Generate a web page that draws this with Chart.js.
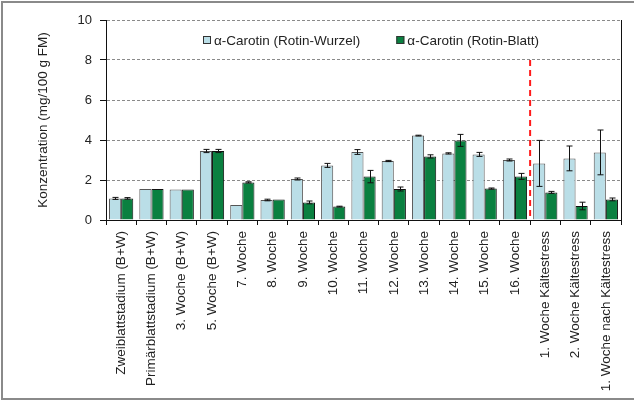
<!DOCTYPE html>
<html>
<head>
<meta charset="utf-8">
<script src="https://cdn.jsdelivr.net/npm/chart.js@4/dist/chart.umd.min.js"></script>
<style>
  html, body { margin: 0; padding: 0; background: #fff; }
  #wrap { position: relative; width: 634px; height: 404px; }
  #frame { position: absolute; left: 1px; top: 1px; width: 640px; height: 399px;
           border: 2px solid #8a8a8a; box-sizing: border-box; pointer-events: none; }
  canvas { position: absolute; left: 0; top: 0; }
</style>
</head>
<body>
<div id="wrap">
  <canvas id="c" width="634" height="404"></canvas>
  <div id="frame"></div>
</div>
<script>
// ── data ──────────────────────────────────────────────────────────────────────
var categories = [
  "Zweiblattstadium (B+W)", "Primärblattstadium (B+W)", "3. Woche (B+W)", "5. Woche (B+W)",
  "7. Woche", "8. Woche", "9. Woche", "10. Woche", "11. Woche", "12. Woche", "13. Woche",
  "14. Woche", "15. Woche", "16. Woche", "1. Woche Kältestress", "2. Woche Kältestress",
  "1. Woche nach Kältestress"
];
var wurzel    = [1.08, 1.55, 1.52, 3.45, 0.75, 1.00, 2.05, 2.73, 3.40, 2.95, 4.22, 3.33, 3.28, 3.00, 2.83, 3.08, 3.38];
var wurzelErr = [0.05, 0.00, 0.00, 0.08, 0.00, 0.04, 0.05, 0.10, 0.12, 0.03, 0.02, 0.03, 0.10, 0.05, 1.15, 0.62, 1.12];
var blatt     = [1.08, 1.55, 1.52, 3.45, 1.88, 1.03, 0.88, 0.67, 2.17, 1.55, 3.18, 3.98, 1.57, 2.18, 1.38, 0.70, 1.03];
var blattErr  = [0.04, 0.00, 0.00, 0.08, 0.03, 0.00, 0.07, 0.02, 0.31, 0.10, 0.08, 0.30, 0.03, 0.15, 0.05, 0.19, 0.07];
var yTicks = [0, 2, 4, 6, 8, 10];
var splitAfter = 13;   // dashed red line after "16. Woche"

var FONT = "'Liberation Sans', Arial, sans-serif";
var TXT = "#222";

// error bars, right plot border, red separator and the in-plot legend
var extras = {
  id: "extras",
  afterDatasetsDraw: function (chart) {
    var ctx = chart.ctx, y = chart.scales.y, x = chart.scales.x, a = chart.chartArea;
    var errs = [wurzelErr, blattErr];
    ctx.save();
    ctx.strokeStyle = "#111"; ctx.lineWidth = 1;
    chart.data.datasets.forEach(function (ds, di) {
      chart.getDatasetMeta(di).data.forEach(function (bar, i) {
        var e = errs[di][i]; if (!e) return;
        var cx = Math.round(bar.x) + 0.5;
        var y1 = y.getPixelForValue(ds.data[i] + e), y2 = y.getPixelForValue(ds.data[i] - e);
        ctx.beginPath();
        ctx.moveTo(cx, y1); ctx.lineTo(cx, y2);
        ctx.moveTo(cx - 3, y1); ctx.lineTo(cx + 3, y1);
        ctx.moveTo(cx - 3, y2); ctx.lineTo(cx + 3, y2);
        ctx.stroke();
      });
    });
    // right border
    ctx.beginPath(); ctx.moveTo(a.right + 0.5, a.top); ctx.lineTo(a.right + 0.5, a.bottom); ctx.stroke();
    // red separator
    var sx = (x.getPixelForValue(splitAfter) + x.getPixelForValue(splitAfter + 1)) / 2;
    ctx.save();
    ctx.strokeStyle = "#ff1a1a"; ctx.lineWidth = 2; ctx.setLineDash([6, 4]);
    ctx.beginPath(); ctx.moveTo(sx, y.getPixelForValue(8)); ctx.lineTo(sx, a.bottom); ctx.stroke();
    ctx.restore();

    // legend, one row inside the plot
    ctx.font = "13.5px " + FONT; ctx.textBaseline = "middle"; ctx.textAlign = "left";
    var box = 8, gapTxt = 3, gapItem = 36;
    var ds = chart.data.datasets;
    var widths = ds.map(function (d) { return box + gapTxt + ctx.measureText(d.label).width; });
    var total = widths[0] + gapItem + widths[1];
    var lx = Math.round((a.left + a.right) / 2 + 7 - total / 2), ly = a.top + 20;
    ds.forEach(function (d, i) {
      ctx.fillStyle = d.backgroundColor; ctx.fillRect(lx, ly - 4, box, box);
      ctx.strokeStyle = "#333"; ctx.lineWidth = 1; ctx.strokeRect(lx + 0.5, ly - 3.5, box - 1, box - 1);
      ctx.fillStyle = TXT; ctx.fillText(d.label, lx + box + gapTxt, ly + 1);
      lx += widths[i] + gapItem;
    });
    ctx.restore();
  }
};

new Chart(document.getElementById("c").getContext("2d"), {
  type: "bar",
  data: {
    labels: categories,
    datasets: [
      { label: "α-Carotin (Rotin-Wurzel)", data: wurzel, backgroundColor: "#badee7",
        borderColor: "#555", borderWidth: 1, categoryPercentage: 0.8, barPercentage: 1 },
      { label: "α-Carotin (Rotin-Blatt)", data: blatt, backgroundColor: "#0a8040",
        borderColor: "#111", borderWidth: 1, categoryPercentage: 0.8, barPercentage: 1 }
    ]
  },
  options: {
    responsive: false, animation: false,
    layout: { padding: { left: 31, top: 20, right: 13, bottom: 4 } },
    plugins: {
      legend: { display: false },
      tooltip: { enabled: false }
    },
    scales: {
      x: {
        grid: { display: true, drawOnChartArea: false, offset: true, tickLength: 5, tickColor: "#111" },
        border: { color: "#111", width: 1 },
        ticks: { color: TXT, minRotation: 90, maxRotation: 90, autoSkip: false, padding: 6,
                 font: { family: FONT, size: 13.5 } },
        afterFit: function (s) { s.height = 404 - 220 - 4; }
      },
      y: {
        min: 0, max: 10,
        afterBuildTicks: function (s) { s.ticks = yTicks.map(function (v) { return { value: v }; }); },
        grid: { color: "#8a8a8a", tickColor: "#111", tickLength: 6, tickBorderDash: [] },
        border: { color: "#111", width: 1, dash: [3, 2] },
        ticks: { color: TXT, padding: 8, font: { family: FONT, size: 13 } },
        title: { display: true, text: "Konzentration (mg/100 g FM)", color: TXT,
                 font: { family: FONT, size: 13.5 }, padding: { top: 4, bottom: 4 } },
        afterFit: function (s) { s.width = 106 - 31; }
      }
    }
  },
  plugins: [extras]
});
</script>
</body>
</html>
